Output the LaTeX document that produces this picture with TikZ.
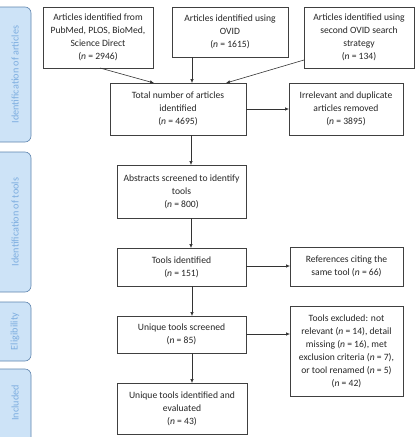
\documentclass[tikz,border=0pt]{standalone}
\usepackage{fontspec}
\setmainfont{Carlito}
\usetikzlibrary{arrows.meta}
\definecolor{sidefill}{HTML}{CDE3F7}
\definecolor{sidedraw}{HTML}{5E84AE}
\definecolor{sidetext}{HTML}{7EAEE0}
\tikzset{
  box/.style={draw=black!75, line width=0.6pt, fill=white, align=center, inner sep=2pt,
     text=black!85, font=\fontsize{9.6}{13}\selectfont},
  side/.style={draw=sidedraw, fill=sidefill, rounded corners=6pt, line width=0.6pt},
  sidelabel/.style={text=sidetext, rotate=90, font=\fontsize{10.2}{11}\selectfont},
  arr/.style={-{Latex[length=4pt,width=3.5pt]}, line width=0.6pt, draw=black!80}
}
\newcommand{\bx}[6]{% name, x1, y1, x2, y2, text
  \path[box] (#2pt,-#3pt) rectangle (#4pt,-#5pt);
  \node[box, draw=none, fill=none] (#1) at ({(#2+#4)/2*1pt},{-(#3+#5)/2*1pt}) {#6};
  \coordinate (#1-nw) at (#2pt,-#3pt);
  \coordinate (#1-se) at (#4pt,-#5pt);
}
\begin{document}
\begin{tikzpicture}
\useasboundingbox (0,0) rectangle (416pt,-437pt);
% side boxes
\draw[side] (-12pt,-7pt) rectangle (31pt,-142pt);
\node[sidelabel] (s1) at (15pt,-74.5pt) {Identification of articles};
\draw[side] (-12pt,-152pt) rectangle (31pt,-292pt);
\node[sidelabel] (s2) at (15pt,-222pt) {Identification of tools};
\draw[side] (-12pt,-302pt) rectangle (31pt,-361pt);
\node[sidelabel] (s3) at (15pt,-331.5pt) {Eligibility};
\draw[side] (-12pt,-369pt) rectangle (31pt,-445pt);
\node[sidelabel] (s4) at (15pt,-403pt) {Included};
% boxes
\bx{A}{43}{7}{153}{68}{Articles identified from\\PubMed, PLOS, BioMed,\\Science Direct\\(\textit{n} = 2946)}
\bx{B}{172}{7}{288}{57}{Articles identified using\\OVID\\(\textit{n} = 1615)}
\bx{C}{304}{7}{414}{68}{Articles identified using\\second OVID search\\strategy\\(\textit{n} = 134)}
\bx{D}{110}{83}{246}{135}{Total number of articles\\identified\\(\textit{n} = 4695)}
\bx{E}{289}{83}{403}{135}{Irrelevant and duplicate\\articles removed\\(\textit{n} = 3895)}
\bx{F}{117}{165}{246}{218}{Abstracts screened to identify\\tools\\(\textit{n} = 800)}
\bx{G}{117}{248}{246}{286}{Tools identified\\(\textit{n} = 151)}
\bx{H}{290}{247}{403}{286}{References citing the\\same tool (\textit{n} = 66)}
\bx{I}{117}{316}{246}{353}{Unique tools screened\\(\textit{n} = 85)}
\bx{J}{290}{306}{403}{396}{Tools excluded: not\\relevant (\textit{n} = 14), detail\\missing (\textit{n} = 16), met\\exclusion criteria (\textit{n} = 7),\\or tool renamed (\textit{n} = 5)\\(\textit{n} = 42)}
\bx{K}{117}{383}{247}{434}{Unique tools identified and\\evaluated\\(\textit{n} = 43)}
% arrows
\draw[arr] (A-nw |- A-se) ++(57pt,0) -- (D-nw -| 154pt,0);
\draw[arr] (B-se -| 192pt,0) -- (D-nw -| 192pt,0);
\draw[arr] (C-nw |- 0,-60pt) -- (D-nw -| 226pt,0);
\draw[arr] (D-se -| 191pt,0) -- (F-nw -| 191pt,0);
\draw[arr] (F-se -| 191pt,0) -- (G-nw -| 191pt,0);
\draw[arr] (G-se -| 192pt,0) -- (I-nw -| 192pt,0);
\draw[arr] (I-se -| 192pt,0) -- (K-nw -| 192pt,0);
\draw[arr] (D-se |- D) -- (E-nw |- D);
\draw[arr] (G-se |- 0,-266pt) -- (H-nw |- 0,-266pt);
\draw[arr] (I-se |- 0,-334pt) -- (J-nw |- 0,-334pt);
\end{tikzpicture}
\end{document}
